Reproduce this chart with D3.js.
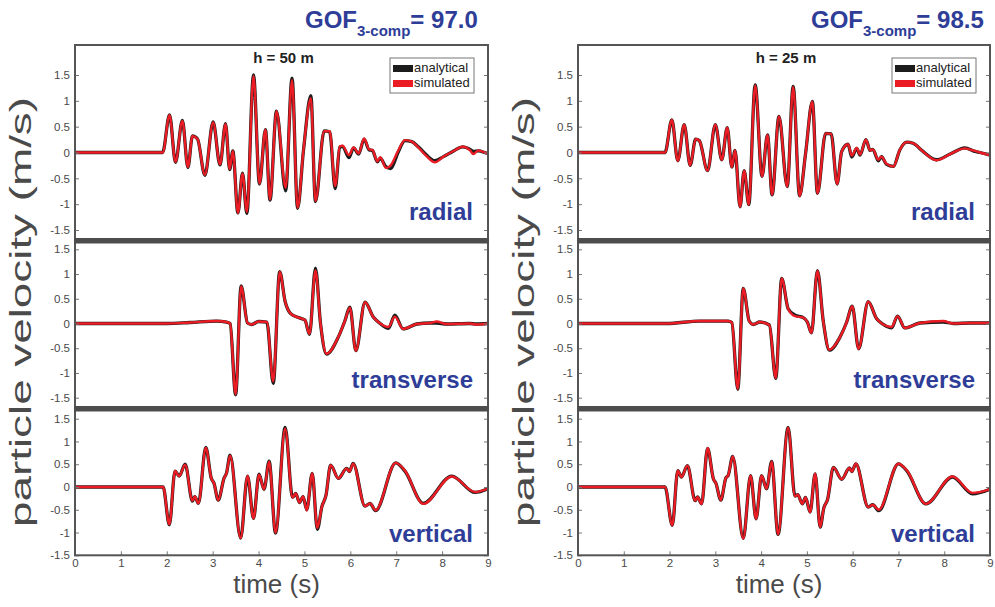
<!DOCTYPE html>
<html>
<head>
<meta charset="utf-8">
<script src="https://cdn.jsdelivr.net/npm/d3@7"></script>
<style>
body { margin: 0; background: #fff; }
svg { display: block; font-family: "Liberation Sans", Arial, Helvetica, sans-serif; }
</style>
</head>
<body>
<script>
// axis ticks and labels
var xTicks = [0, 1, 2, 3, 4, 5, 6, 7, 8, 9];
var yTicks = [-1.5, -1, -0.5, 0, 0.5, 1, 1.5];
var components = ['radial', 'transverse', 'vertical'];
var gridLabels = ['h = 50 m', 'h = 25 m'];
var gofScores = ['97.0', '98.5'];
var legendLabels = ['analytical', 'simulated'];

// h = 50 m : radial
var rad50T = [0, 1.91, 2.06, 2.19, 2.34, 2.46, 2.56, 2.67, 2.83, 3.01, 3.16, 3.28, 3.37, 3.44, 3.55, 3.65, 3.745, 3.89, 4.02, 4.15, 4.25, 4.39, 4.59, 4.73, 4.85, 4.98, 5.14, 5.24, 5.43, 5.55, 5.67, 5.77, 5.83, 5.97, 6.07, 6.18, 6.30, 6.41, 6.48, 6.59, 6.65, 6.78, 6.88, 7.04, 7.19, 7.34, 7.48, 7.66, 7.84, 8.03, 8.25, 8.45, 8.61, 8.68, 8.79, 8.96, 9];
var rad50A = [0, 0, 0.73, -0.19, 0.62, -0.29, 0.32, 0.26, -0.44, 0.59, -0.24, 0.56, -0.33, 0.03, -1.17, -0.40, -1.18, 1.50, -0.61, 0.44, -0.92, 0.80, -0.74, 1.44, -1.08, 0.05, 1.10, -0.95, 0.42, 0.40, -0.70, 0.10, 0.12, -0.10, 0.09, -0.03, 0.26, 0.05, 0.04, -0.18, -0.11, -0.28, -0.31, 0.00, 0.23, 0.21, 0.11, -0.05, -0.16, -0.08, 0.03, 0.11, 0.06, 0.02, 0.03, -0.01, -0.02];
var rad50S = [0, 0, 0.72, -0.18, 0.61, -0.28, 0.32, 0.26, -0.43, 0.58, -0.23, 0.55, -0.32, 0.03, -1.17, -0.41, -1.15, 1.48, -0.60, 0.44, -0.91, 0.80, -0.68, 1.40, -1.07, 0.06, 1.05, -0.94, 0.41, 0.41, -0.65, 0.12, 0.13, -0.05, 0.10, -0.02, 0.27, 0.06, 0.05, -0.17, -0.09, -0.30, -0.25, 0.03, 0.24, 0.21, 0.10, -0.07, -0.19, -0.08, 0.03, 0.11, 0.04, -0.03, 0.04, -0.01, -0.02];

// h = 50 m : transverse
var tra50T = [0, 2.0, 2.5, 3.09, 3.30, 3.38, 3.50, 3.62, 3.76, 3.85, 4.0, 4.18, 4.32, 4.46, 4.58, 4.70, 4.87, 5.01, 5.11, 5.24, 5.35, 5.48, 5.74, 5.88, 5.99, 6.12, 6.32, 6.50, 6.65, 6.83, 6.97, 7.15, 7.45, 7.74, 7.88, 8.1, 8.6, 8.75, 9];
var tra50A = [0, 0, 0.02, 0.05, 0.03, 0.0, -1.44, 0.76, 0.01, -0.02, 0.04, 0.03, -1.21, 1.05, 0.44, 0.20, 0.12, 0.07, -0.22, 1.12, 0.0, -0.62, -0.27, 0.05, 0.33, -0.55, 0.43, 0.13, 0.0, -0.10, 0.17, -0.11, -0.01, 0.01, 0.01, -0.01, 0, -0.01, 0];
var tra50S = [0, 0, 0.02, 0.05, 0.03, 0.0, -1.43, 0.75, 0.01, -0.02, 0.04, 0.03, -1.17, 1.04, 0.44, 0.20, 0.12, 0.07, -0.21, 1.07, 0.0, -0.61, -0.27, 0.05, 0.32, -0.55, 0.43, 0.13, 0.0, -0.07, 0.14, -0.11, -0.01, 0.01, 0.04, -0.01, 0, -0.02, 0];

// h = 50 m : vertical
var ver50T = [0, 1.92, 2.056, 2.18, 2.27, 2.40, 2.56, 2.61, 2.69, 2.85, 2.97, 3.03, 3.12, 3.25, 3.30, 3.38, 3.61, 3.76, 3.89, 4.01, 4.12, 4.23, 4.37, 4.58, 4.74, 4.81, 4.89, 4.97, 5.05, 5.17, 5.28, 5.38, 5.47, 5.57, 5.74, 5.92, 5.98, 6.06, 6.32, 6.43, 6.55, 6.99, 7.19, 7.59, 8.21, 8.72, 9];
var ver50A = [0, 0, -0.83, 0.35, 0.24, 0.50, -0.31, -0.21, -0.36, 0.87, 0.19, 0.08, -0.29, 0.20, 0.30, 0.70, -1.12, 0.24, -0.69, 0.28, -0.05, 0.57, -1.01, 1.31, -0.23, -0.14, -0.34, -0.21, -0.50, 0.30, -0.93, -0.43, -0.18, 0.48, 0.19, 0.41, 0.34, 0.52, -0.42, -0.36, -0.52, 0.53, 0.35, -0.36, 0.24, -0.12, -0.04];
var ver50S = [0, 0, -0.82, 0.35, 0.24, 0.49, -0.30, -0.21, -0.36, 0.86, 0.19, 0.08, -0.29, 0.20, 0.30, 0.69, -1.12, 0.24, -0.69, 0.27, -0.05, 0.56, -1.00, 1.28, -0.23, -0.14, -0.34, -0.21, -0.51, 0.30, -0.90, -0.43, -0.18, 0.48, 0.19, 0.41, 0.34, 0.51, -0.42, -0.36, -0.51, 0.53, 0.36, -0.37, 0.23, -0.11, -0.04];

// h = 25 m : radial
var rad25T = [0, 1.90, 2.05, 2.18, 2.32, 2.45, 2.57, 2.65, 2.83, 3.0, 3.14, 3.26, 3.36, 3.43, 3.54, 3.63, 3.73, 3.87, 4.02, 4.14, 4.24, 4.39, 4.57, 4.70, 4.84, 4.97, 5.12, 5.23, 5.41, 5.53, 5.66, 5.76, 5.90, 5.98, 6.09, 6.16, 6.29, 6.38, 6.44, 6.56, 6.63, 6.74, 6.89, 7.03, 7.18, 7.32, 7.51, 7.83, 8.13, 8.45, 8.67, 8.78, 9];
var rad25A = [0, 0, 0.63, -0.16, 0.54, -0.25, 0.26, 0.23, -0.35, 0.54, -0.14, 0.48, -0.28, 0.04, -1.05, -0.35, -1.01, 1.31, -0.46, 0.34, -0.82, 0.70, -0.66, 1.28, -0.84, -0.03, 0.99, -0.79, 0.37, 0.36, -0.61, 0.02, 0.16, -0.09, 0.08, -0.05, 0.25, 0.04, 0.06, -0.16, -0.08, -0.23, -0.27, 0.05, 0.20, 0.18, 0.04, -0.14, -0.03, 0.09, 0.02, 0.0, -0.05];
var rad25S = [0, 0, 0.63, -0.16, 0.54, -0.25, 0.26, 0.23, -0.35, 0.54, -0.14, 0.48, -0.28, 0.04, -1.05, -0.35, -1.01, 1.30, -0.46, 0.34, -0.82, 0.70, -0.66, 1.27, -0.84, -0.03, 0.99, -0.79, 0.37, 0.36, -0.61, 0.02, 0.16, -0.06, 0.09, -0.04, 0.25, 0.04, 0.06, -0.14, -0.08, -0.22, -0.27, 0.05, 0.20, 0.18, 0.04, -0.15, -0.03, 0.08, 0.03, 0.0, -0.05];

// h = 25 m : transverse
var tra25T = [0, 1.94, 2.66, 3.28, 3.36, 3.49, 3.61, 3.74, 3.83, 3.97, 4.18, 4.32, 4.45, 4.59, 4.74, 4.92, 5.01, 5.10, 5.23, 5.36, 5.49, 5.72, 5.87, 5.99, 6.13, 6.34, 6.52, 6.67, 6.85, 6.98, 7.14, 7.47, 7.98, 8.2, 8.56, 9];
var tra25A = [0, 0, 0.05, 0.05, 0.02, -1.33, 0.71, 0.05, -0.02, 0.03, -0.03, -1.11, 0.91, 0.30, 0.17, 0.12, 0.03, -0.19, 1.07, 0.03, -0.54, -0.28, 0.03, 0.35, -0.51, 0.44, 0.10, -0.02, -0.09, 0.15, -0.09, 0.01, 0.03, 0.0, 0.01, 0.01];
var tra25S = [0, 0, 0.05, 0.05, 0.02, -1.32, 0.71, 0.05, -0.02, 0.03, -0.03, -1.10, 0.91, 0.30, 0.15, 0.12, 0.03, -0.19, 1.06, 0.03, -0.53, -0.28, 0.03, 0.35, -0.51, 0.44, 0.10, -0.02, -0.07, 0.15, -0.09, 0.01, 0.05, 0.0, 0.01, 0.01];

// h = 25 m : vertical
var ver25T = [0, 1.90, 2.06, 2.18, 2.26, 2.39, 2.56, 2.61, 2.70, 2.83, 2.96, 3.01, 3.12, 3.23, 3.28, 3.38, 3.61, 3.77, 3.89, 4.01, 4.12, 4.23, 4.37, 4.59, 4.74, 4.80, 4.90, 4.97, 5.07, 5.18, 5.29, 5.37, 5.45, 5.58, 5.76, 5.93, 5.98, 6.07, 6.34, 6.44, 6.57, 7.0, 7.18, 7.60, 8.18, 8.62, 9];
var ver25A = [0, 0, -0.84, 0.36, 0.22, 0.47, -0.30, -0.22, -0.37, 0.85, 0.17, 0.09, -0.29, 0.20, 0.25, 0.67, -1.13, 0.25, -0.70, 0.25, -0.04, 0.56, -1.04, 1.31, -0.20, -0.17, -0.37, -0.23, -0.55, 0.29, -0.88, -0.46, -0.28, 0.43, 0.17, 0.42, 0.34, 0.51, -0.44, -0.39, -0.52, 0.51, 0.36, -0.37, 0.22, -0.15, -0.05];
var ver25S = [0, 0, -0.84, 0.36, 0.22, 0.47, -0.30, -0.22, -0.37, 0.85, 0.17, 0.09, -0.29, 0.20, 0.25, 0.67, -1.13, 0.25, -0.70, 0.25, -0.04, 0.56, -1.04, 1.30, -0.20, -0.17, -0.37, -0.23, -0.55, 0.29, -0.88, -0.46, -0.28, 0.43, 0.17, 0.42, 0.34, 0.51, -0.44, -0.39, -0.50, 0.51, 0.37, -0.37, 0.23, -0.13, -0.05];

var W = 995, H = 607;
var blue = '#2e3d97', black = '#1c1c1c', red = '#ec1c24', frameCol = '#555', textCol = '#4a4a4a';

var svg = d3.select('body').append('svg')
    .attr('width', W)
    .attr('height', H);

svg.append('rect').attr('width', W).attr('height', H).attr('fill', '#fff');

// layout of the three stacked sub-axes (pixel rows of y = 1.5 / -1.5 and clip area)
var rows = [
    {top: 45, bottom: 238, y15: 75, yM15: 230},
    {top: 243.5, bottom: 406, y15: 249.3, yM15: 397.7},
    {top: 411.5, bottom: 555.3, y15: 418.7, yM15: 555.3}
];

var panels = [
    {x0: 75, x1: 488, gofX: 305, label: gridLabels[0], gof: gofScores[0],
     series: [[rad50T, rad50A, rad50S], [tra50T, tra50A, tra50S], [ver50T, ver50A, ver50S]]},
    {x0: 578, x1: 990, gofX: 811, label: gridLabels[1], gof: gofScores[1],
     series: [[rad25T, rad25A, rad25S], [tra25T, tra25A, tra25S], [ver25T, ver25A, ver25S]]}
];

var defs = svg.append('defs');

panels.forEach(function(p, pi) {
    var g = svg.append('g');

    var x = d3.scaleLinear()
        .domain([0, 9])
        .range([p.x0, p.x1]);

    rows.forEach(function(r, ri) {
        var y = d3.scaleLinear()
            .domain([-1.5, 1.5])
            .range([r.yM15, r.y15]);

        var clipId = 'clip' + pi + ri;
        defs.append('clipPath').attr('id', clipId)
            .append('rect')
            .attr('x', p.x0).attr('y', r.top)
            .attr('width', p.x1 - p.x0).attr('height', r.bottom - r.top);

        var s = p.series[ri];
        var pts = function(vals) {
            return s[0].map(function(t, i) { return [t, vals[i]]; });
        };
        var line = d3.line()
            .x(function(d) { return x(d[0]); })
            .y(function(d) { return y(d[1]); })
            .curve(d3.curveMonotoneX);

        var lg = g.append('g').attr('clip-path', 'url(#' + clipId + ')');
        lg.append('path')
            .attr('d', line(pts(s[1])))
            .attr('fill', 'none')
            .attr('stroke', black)
            .attr('stroke-width', 3.3)
            .attr('stroke-linejoin', 'round');
        lg.append('path')
            .attr('d', line(pts(s[2])))
            .attr('fill', 'none')
            .attr('stroke', red)
            .attr('stroke-width', 2.4)
            .attr('stroke-linejoin', 'round');

        // y ticks, left with labels, right without
        var yl = g.append('g')
            .attr('transform', 'translate(' + p.x0 + ',0)')
            .call(d3.axisLeft(y).tickValues(yTicks).tickSize(-4).tickPadding(5)
                .tickFormat(function(d) { return String(d); }));
        var yr = g.append('g')
            .attr('transform', 'translate(' + p.x1 + ',0)')
            .call(d3.axisRight(y).tickValues(yTicks).tickSize(-4).tickFormat(''));
        [yl, yr].forEach(function(a) {
            a.select('.domain').remove();
            a.selectAll('line').attr('stroke', '#777');
            a.selectAll('text').attr('fill', textCol).style('font-size', '11.5px');
        });

        g.append('text')
            .attr('x', p.x1 - 15)
            .attr('y', [219.5, 387.5, 541.5][ri])
            .attr('text-anchor', 'end')
            .attr('fill', blue)
            .style('font-size', '24px')
            .style('font-weight', 'bold')
            .text(components[ri]);
    });

    // x axis
    var xa = g.append('g')
        .attr('transform', 'translate(0,' + rows[2].bottom + ')')
        .call(d3.axisBottom(x).tickValues(xTicks).tickSize(-4).tickPadding(4));
    xa.select('.domain').remove();
    xa.selectAll('line').attr('stroke', '#777');
    xa.selectAll('text').attr('fill', textCol).style('font-size', '11.5px');

    // frame and separators
    g.append('rect')
        .attr('x', p.x0).attr('y', rows[0].top)
        .attr('width', p.x1 - p.x0).attr('height', rows[2].bottom - rows[0].top)
        .attr('fill', 'none')
        .attr('stroke', frameCol)
        .attr('stroke-width', 2);
    [238, 406].forEach(function(yy) {
        g.append('rect')
            .attr('x', p.x0 - 1).attr('y', yy)
            .attr('width', p.x1 - p.x0 + 2).attr('height', 5.5)
            .attr('fill', '#4d4d4d');
    });

    // h label
    g.append('text')
        .attr('x', (p.x0 + p.x1) / 2 + 2)
        .attr('y', 63)
        .attr('text-anchor', 'middle')
        .attr('fill', '#222')
        .style('font-size', '15px')
        .style('font-weight', 'bold')
        .text(p.label);

    // legend
    var lx = p.x1 - 98;
    var leg = g.append('g').attr('transform', 'translate(' + lx + ',58)');
    leg.append('rect')
        .attr('width', 84).attr('height', 35)
        .attr('fill', '#fff')
        .attr('stroke', '#777')
        .attr('stroke-width', 1);
    [black, red].forEach(function(c, i) {
        leg.append('rect')
            .attr('x', 3).attr('y', 7 + i * 15)
            .attr('width', 20).attr('height', 7)
            .attr('fill', c);
        leg.append('text')
            .attr('x', 24).attr('y', 14 + i * 15)
            .attr('fill', '#222')
            .style('font-size', '13px')
            .text(legendLabels[i]);
    });

    // GOF title
    var t = g.append('text')
        .attr('x', p.gofX).attr('y', 28)
        .attr('fill', blue)
        .style('font-weight', 'bold')
        .style('font-size', '24px');
    t.append('tspan').text('GOF');
    t.append('tspan').attr('dy', 8).style('font-size', '15px').text('3-comp');
    t.append('tspan').attr('dy', -8).text('= ' + p.gof);

    // axis titles
    g.append('text')
        .attr('x', (p.x0 + p.x1) / 2 - 5)
        .attr('y', 593)
        .attr('text-anchor', 'middle')
        .attr('fill', textCol)
        .style('font-size', '26px')
        .text('time (s)');
    g.append('text')
        .attr('transform', 'translate(' + (p.x0 - 44) + ',312) rotate(-90)')
        .attr('text-anchor', 'middle')
        .attr('fill', textCol)
        .style('font-size', '30px')
        .attr('textLength', 430)
        .attr('lengthAdjust', 'spacingAndGlyphs')
        .text('particle velocity (m/s)');
});
</script>
</body>
</html>
